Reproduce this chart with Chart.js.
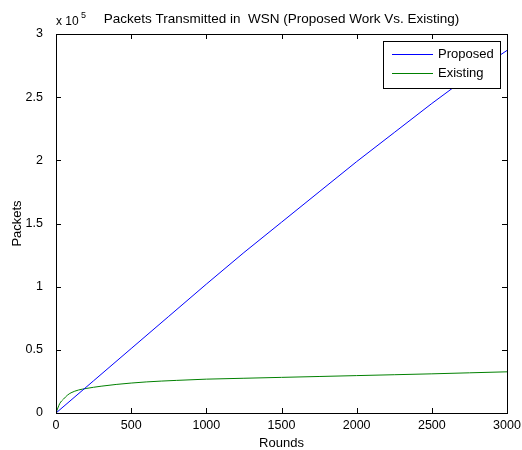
<!DOCTYPE html>
<html>
<head>
<meta charset="utf-8">
<script src="https://cdn.jsdelivr.net/npm/chart.js@4.4.0/dist/chart.umd.min.js"></script>
<style>
	html, body { margin: 0; padding: 0; background: #fff; }
	#wrap { width: 522px; height: 450px; }
</style>
</head>
<body>
<div id="wrap"><canvas id="chart1"></canvas></div>
<script>
	// Rounds at which each series was sampled
	const proposedRounds = [0, 250, 500, 750, 1000, 1250, 1500, 1750, 2000, 2250, 2500, 2750, 3000];
	const proposedPackets = [0, 25500, 51000, 76500, 102000, 127000, 151000, 175000, 199000, 222000, 245000, 267000, 287000];

	const existingRounds = [0, 25, 50, 75, 100, 150, 200, 300, 400, 600, 800, 1000, 1250, 1500, 1750, 2000, 2250, 2500, 2750, 3000];
	const existingPackets = [0, 7500, 11000, 14000, 16000, 18200, 19400, 21200, 22600, 24600, 25800, 26800, 27500, 28200, 28900, 29600, 30300, 31000, 31800, 32600];

	const xTickLabels = ['0', '500', '1000', '1500', '2000', '2500', '3000'];
	const yTickLabels = ['0', '0.5', '1', '1.5', '2', '2.5', '3'];

	const seriesNames = ['Proposed', 'Existing'];
	const seriesColors = ['#0000ff', '#008000'];

	const FONT = '"Liberation Sans", Arial, sans-serif';

	function toPoints(xs, ys) {
		return xs.map((x, i) => ({ x: x, y: ys[i] }));
	}

	// Draws the MATLAB style box, inner ticks, title, labels and legend
	const matlabDecor = {
		id: 'matlabDecor',
		afterDatasetsDraw(chart) {
			const ctx = chart.ctx;
			const a = chart.chartArea;
			const xs = chart.scales.x;
			const ys = chart.scales.y;
			const tl = 5;
			ctx.save();
			ctx.strokeStyle = '#000';
			ctx.lineWidth = 1;
			ctx.beginPath();
			xs.ticks.forEach((t) => {
				const px = Math.round(xs.getPixelForValue(t.value)) + 0.5;
				ctx.moveTo(px, a.bottom);
				ctx.lineTo(px, a.bottom - tl);
				ctx.moveTo(px, a.top);
				ctx.lineTo(px, a.top + tl);
			});
			ys.ticks.forEach((t) => {
				const py = Math.round(ys.getPixelForValue(t.value)) + 0.5;
				ctx.moveTo(a.left, py);
				ctx.lineTo(a.left + tl, py);
				ctx.moveTo(a.right, py);
				ctx.lineTo(a.right - tl, py);
			});
			ctx.stroke();
			ctx.strokeRect(Math.round(a.left) + 0.5, Math.round(a.top) + 0.5,
				Math.round(a.right - a.left), Math.round(a.bottom - a.top));
			ctx.restore();
		},
		afterDraw(chart) {
			const ctx = chart.ctx;
			const a = chart.chartArea;
			ctx.save();
			ctx.fillStyle = '#000';

			// title
			ctx.font = '13.5px ' + FONT;
			ctx.textAlign = 'center';
			ctx.textBaseline = 'alphabetic';
			ctx.fillText('Packets Transmitted in  WSN (Proposed Work Vs. Existing)', (a.left + a.right) / 2, 23);

			// exponent
			ctx.textAlign = 'left';
			ctx.font = '12px ' + FONT;
			ctx.fillText('x 10', 56, 25);
			ctx.font = '9px ' + FONT;
			ctx.fillText('5', 81, 18);

			// axis titles
			ctx.font = '13px ' + FONT;
			ctx.textAlign = 'center';
			ctx.textBaseline = 'middle';
			ctx.fillText('Rounds', (a.left + a.right) / 2, 443);
			ctx.translate(17, (a.top + a.bottom) / 2);
			ctx.rotate(-Math.PI / 2);
			ctx.fillText('Packets', 0, 0);
			ctx.setTransform(1, 0, 0, 1, 0, 0);

			// legend
			const lx = 383.5, ly = 41.5, lw = 117, lh = 47;
			ctx.fillStyle = '#fff';
			ctx.fillRect(lx, ly, lw, lh);
			ctx.strokeStyle = '#000';
			ctx.lineWidth = 1;
			ctx.strokeRect(lx, ly, lw, lh);
			ctx.font = '13px ' + FONT;
			ctx.textAlign = 'left';
			ctx.textBaseline = 'middle';
			seriesNames.forEach((name, i) => {
				const yy = 54.5 + i * 19;
				ctx.strokeStyle = seriesColors[i];
				ctx.beginPath();
				ctx.moveTo(392, yy);
				ctx.lineTo(433, yy);
				ctx.stroke();
				ctx.fillStyle = '#000';
				ctx.fillText(name, 438, yy);
			});
			ctx.restore();
		}
	};

	const chart1 = document.getElementById('chart1');
	if (chart1) {
		const dataChart1 = {
			datasets: [{
				label: seriesNames[0],
				data: toPoints(proposedRounds, proposedPackets),
				borderColor: seriesColors[0],
				borderWidth: 1,
				pointRadius: 0,
				tension: 0,
			}, {
				label: seriesNames[1],
				data: toPoints(existingRounds, existingPackets),
				borderColor: seriesColors[1],
				borderWidth: 1,
				pointRadius: 0,
				cubicInterpolationMode: 'monotone',
			}]
		};

		const configChart1 = {
			type: 'line',
			data: dataChart1,
			options: {
				responsive: false,
				animation: false,
				devicePixelRatio: 1,
				layout: {
					padding: { top: 34, right: 15, left: 0, bottom: 0 }
				},
				scales: {
					x: {
						type: 'linear',
						min: 0,
						max: 3000,
						grid: { display: false },
						border: { display: false },
						afterFit: (scale) => { scale.height = 37; },
						ticks: {
							stepSize: 500,
							maxRotation: 0,
							padding: -3,
							color: '#000',
							font: { family: FONT, size: 12.5 },
							callback: (v, i) => xTickLabels[i]
						}
					},
					y: {
						min: 0,
						max: 300000,
						grid: { display: false },
						border: { display: false },
						afterFit: (scale) => { scale.width = 56; },
						ticks: {
							stepSize: 50000,
							padding: 5,
							color: '#000',
							font: { family: FONT, size: 12.5 },
							callback: (v, i) => yTickLabels[i]
						}
					}
				},
				plugins: {
					legend: { display: false },
					title: { display: false },
					tooltip: { enabled: false }
				}
			},
			plugins: [matlabDecor]
		};

		chart1.width = 522;
		chart1.height = 450;
		const myChart1 = new Chart(chart1, configChart1);
	}
</script>
</body>
</html>
